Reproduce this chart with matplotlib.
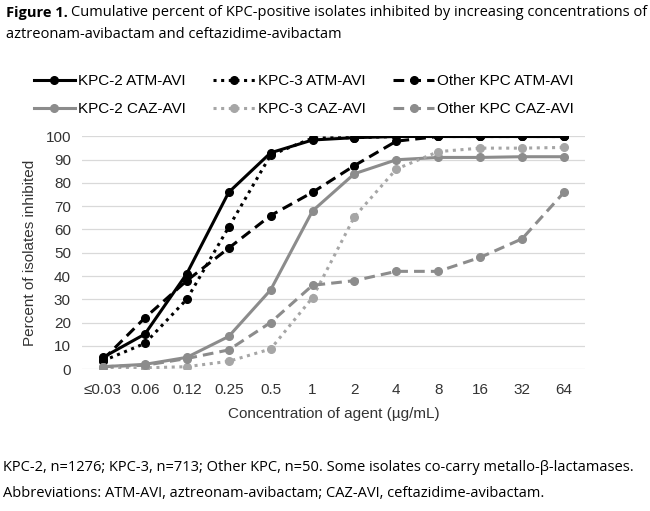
import matplotlib
matplotlib.use("Agg")
import matplotlib.pyplot as plt

# concentrations (categorical axis)
conc = ["\u22640.03", "0.06", "0.12", "0.25", "0.5", "1", "2", "4", "8", "16", "32", "64"]

kpc2_atm = [5, 15, 41, 76, 93, 98.5, 99.5, 100, 100, 100, 100, 100]
kpc3_atm = [3.5, 11, 30, 61, 92, 99.3, 99.5, 100, 100, 100, 100, 100]
other_atm = [4, 22, 38, 52, 66, 76, 87.5, 98, 100, 100, 100, 100]
kpc2_caz = [1, 2, 5, 14, 34, 68, 84, 90, 91, 91, 91.3, 91.3]
kpc3_caz = [0.5, 0.5, 1, 3.3, 8.6, 30.7, 65.5, 86, 93.5, 95, 95, 95.3]
other_caz = [1, 1.6, 4.5, 8.2, 20, 36, 38, 42, 42, 48, 56, 76]

narrow = "Liberation Sans"
body = "Open Sans"
W, H = 650, 511

fig = plt.figure(figsize=(6.5, 5.11), dpi=100)
ax = fig.add_axes([82/W, 1-369/H, (585-82)/W, (369-136.5)/H])

x = list(range(len(conc)))
blk = "#000000"
gry = "#8c8c8c"
lgry = "#a6a6a6"
lw = 2.2
ms = 5.5

h1, = ax.plot(x, kpc2_atm, color=blk, lw=lw, ls="-", marker="o", ms=ms, label="KPC-2 ATM-AVI")
h2, = ax.plot(x, kpc3_atm, color=blk, lw=lw, ls=(0, (1, 1.5)), marker="o", ms=ms, label="KPC-3 ATM-AVI")
h3, = ax.plot(x, other_atm, color=blk, lw=lw, ls=(0, (3.5, 2)), marker="o", ms=ms, label="Other KPC ATM-AVI")
h4, = ax.plot(x, kpc2_caz, color=gry, lw=lw, ls="-", marker="o", ms=ms, label="KPC-2 CAZ-AVI")
h5, = ax.plot(x, kpc3_caz, color=lgry, lw=lw, ls=(0, (1, 1.5)), marker="o", ms=ms, label="KPC-3 CAZ-AVI")
h6, = ax.plot(x, other_caz, color=gry, lw=lw, ls=(0, (3.5, 2)), marker="o", ms=ms, label="Other KPC CAZ-AVI")

ax.set_xlim(-0.5, len(conc) - 0.5)
ax.set_ylim(0, 100)
ax.set_yticks(range(0, 101, 10))
ax.set_xticks(x)
ax.set_xticklabels(conc)
for s in ax.spines.values():
    s.set_visible(False)
ax.grid(axis="y", color="#d9d9d9", lw=0.9)
ax.set_axisbelow(True)
ax.tick_params(axis="x", length=0, labelsize=11, pad=10)
ax.tick_params(axis="y", length=0, labelsize=11, pad=8)
for lab in ax.get_xticklabels() + ax.get_yticklabels():
    lab.set_fontfamily(narrow)
    lab.set_color("#333333")
ax.set_xlabel("Concentration of agent (\u00b5g/mL)", fontsize=11, family=narrow, color="#333333", labelpad=7)
ax.set_ylabel("Percent of isolates inhibited", fontsize=11, family=narrow, color="#333333", labelpad=6)

fig.legend(handles=[h1, h4, h2, h5, h3, h6], ncol=3, loc="center",
           bbox_to_anchor=(304/W, 1-95/H), frameon=False,
           prop={"family": narrow, "size": 11}, handlelength=2.7,
           columnspacing=1.8, handletextpad=0.2, labelspacing=0.9)

# title, bold "Figure 1." followed by normal text
t = fig.text(6/W, 1-13/H, "Figure 1.", fontsize=10.5, family=body, weight="bold", va="center")
fig.canvas.draw()
bb = t.get_window_extent()
fig.text((bb.x1 + 3)/W, 1-13/H, "Cumulative percent of KPC-positive isolates inhibited by increasing concentrations of",
         fontsize=10.5, family=body, va="center")
fig.text(6/W, 1-34/H, "aztreonam-avibactam and ceftazidime-avibactam", fontsize=10.5, family=body, va="center")

fig.text(3/W, 1-467/H, "KPC-2, n=1276; KPC-3, n=713; Other KPC, n=50. Some isolates co-carry metallo-\u03b2-lactamases.",
         fontsize=10.5, family=body, va="center")
fig.text(3/W, 1-493/H, "Abbreviations: ATM-AVI, aztreonam-avibactam; CAZ-AVI, ceftazidime-avibactam.",
         fontsize=10.5, family=body, va="center")

fig.savefig("out.png", dpi=100)
